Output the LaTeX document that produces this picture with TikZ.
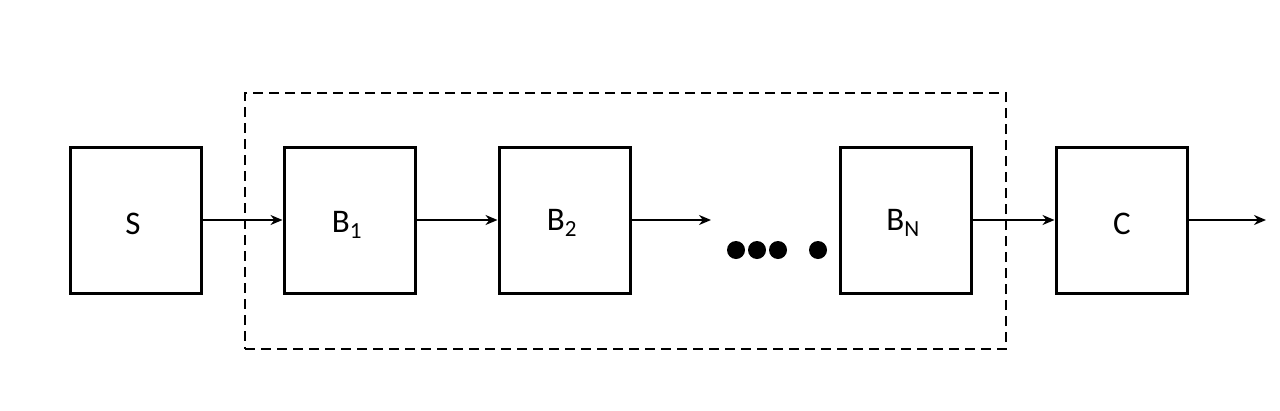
\documentclass[tikz,border=0pt]{standalone}
\usepackage{fontspec}
\setmainfont{Carlito}
\usetikzlibrary{arrows.meta}
\begin{document}
\begin{tikzpicture}[x=1pt,y=-1pt,
  blk/.style={draw,line width=3pt,minimum width=131pt,minimum height=146pt,inner sep=0pt,font=\fontsize{33}{39}\selectfont},
  lbl/.style={font=\fontsize{33}{39}\selectfont,inner sep=0pt},
  conn/.style={line width=2.4pt,-{Stealth[length=12pt,width=10pt]}},
  dot/.style={fill=black,circle,minimum size=18pt,inner sep=0pt}]
\useasboundingbox (0,0) rectangle (1280,410);
\node[draw,dashed,line width=2.4pt,dash pattern=on 10pt off 6pt,minimum width=761pt,minimum height=256pt] (grp) at (625.5,221) {};
\node[blk] (S) at (135.5,220) {};
\node[blk] (B1) at (349.5,220) {};
\node[blk] (B2) at (564.5,220) {};
\node[blk] (BN) at (905.5,220) {};
\node[blk] (C) at (1121.5,220) {};
\node[lbl] (tS) at (133,224) {S};
\node[lbl] (tB1) at (347,225) {B\textsubscript{1}};
\node[lbl] (tB2) at (562,223) {B\textsubscript{2}};
\node[lbl] (tBN) at (903,223) {B\textsubscript{N}};
\node[lbl] (tC) at (1122,224) {C};
\coordinate (e1) at (711,220);
\coordinate (e2) at (1266,220);
\node[dot] (d1) at (736,250) {};
\node[dot] (d2) at (757,250) {};
\node[dot] (d3) at (778,250) {};
\node[dot] (d4) at (818,250) {};
\draw[conn] (S) -- (B1);
\draw[conn] (B1) -- (B2);
\draw[conn] (B2) -- (e1);
\draw[conn] (BN) -- (C);
\draw[conn] (C) -- (e2);
\end{tikzpicture}
\end{document}
